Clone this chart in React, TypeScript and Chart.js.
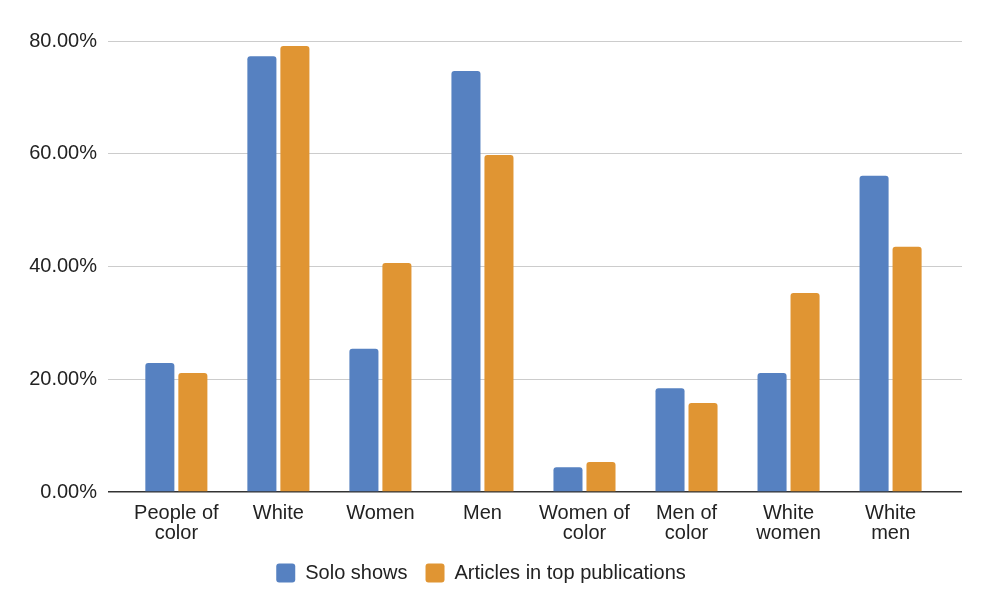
import { useEffect, useRef } from "react";
import { Chart, ChartConfiguration, registerables } from "chart.js";
Chart.register(...registerables);

const categories: string[][] = [
  ["People of", "color"],
  ["White"],
  ["Women"],
  ["Men"],
  ["Women of", "color"],
  ["Men of", "color"],
  ["White", "women"],
  ["White", "men"],
];
const soloShows = [22.9, 77.3, 25.4, 74.7, 4.4, 18.4, 21.1, 56.1];
const articles = [21.1, 79.1, 40.6, 59.8, 5.3, 15.8, 35.3, 43.5];
const yTicks = [0, 20, 40, 60, 80];

const BLUE = "#5681c1";
const ORANGE = "#e09533";
const FONT = "'Liberation Sans', Arial, Helvetica, sans-serif";

const App = () => {
  const ref = useRef<HTMLCanvasElement>(null);

  useEffect(() => {
    document.body.style.margin = "0";
    const radius = { topLeft: 3, topRight: 3, bottomLeft: 0, bottomRight: 0 };
    const config: ChartConfiguration = {
      type: "bar",
      data: {
        datasets: [
          {
            label: "Solo shows",
            data: soloShows.map((v, i) => ({ x: i, y: v })),
            backgroundColor: BLUE,
            borderRadius: radius,
            borderSkipped: false,
            categoryPercentage: 0.647,
            barPercentage: 0.88,
          },
          {
            label: "Articles in top publications",
            data: articles.map((v, i) => ({ x: i, y: v })),
            backgroundColor: ORANGE,
            borderRadius: radius,
            borderSkipped: false,
            categoryPercentage: 0.647,
            barPercentage: 0.88,
          },
        ] as any,
      },
      options: {
        animation: false,
        responsive: false,
        layout: { padding: { top: 41, right: 30, bottom: 20, left: 0 } },
        scales: {
          x: {
            type: "linear",
            min: -0.67,
            max: 7.7,
            offset: false,
            grid: { display: false, offset: false },
            border: { display: false },
            afterBuildTicks: (scale) => {
              scale.ticks = categories.map((_, i) => ({ value: i }));
            },
            afterFit: (scale) => {
              scale.height = 53;
            },
            ticks: {
              autoSkip: false,
              maxRotation: 0,
              padding: 3,
              color: "#222",
              font: { family: FONT, size: 20, lineHeight: 1.0 },
              callback: (v) => categories[Number(v)] ?? "",
            },
          },
          y: {
            min: 0,
            max: 80,
            afterBuildTicks: (scale) => {
              scale.ticks = yTicks.map((v) => ({ value: v }));
            },
            afterFit: (scale) => {
              scale.width = 108;
            },
            border: { display: false },
            grid: {
              drawTicks: false,
              color: (ctx) => (ctx.tick && ctx.tick.value === 0 ? "#333" : "#cccccc"),
              lineWidth: (ctx) => (ctx.tick && ctx.tick.value === 0 ? 1.5 : 1),
            },
            ticks: {
              padding: 11,
              color: "#222",
              font: { family: FONT, size: 20 },
              callback: (v) => Number(v).toFixed(2) + "%",
            },
          },
        },
        plugins: {
          tooltip: { enabled: false },
          legend: {
            position: "bottom",
            labels: {
              boxWidth: 19,
              boxHeight: 19,
              useBorderRadius: true,
              borderRadius: 3,
              padding: 18,
              color: "#222",
              font: { family: FONT, size: 20 },
            },
          },
        },
      },
    };
    const chart = new Chart(ref.current!, config);
    return () => {
      chart.destroy();
    };
  }, []);

  return (
    <div style={{ position: "relative", width: 992, height: 613, background: "#fff" }}>
      <canvas ref={ref} width={992} height={613}></canvas>
    </div>
  );
};
export default App;
